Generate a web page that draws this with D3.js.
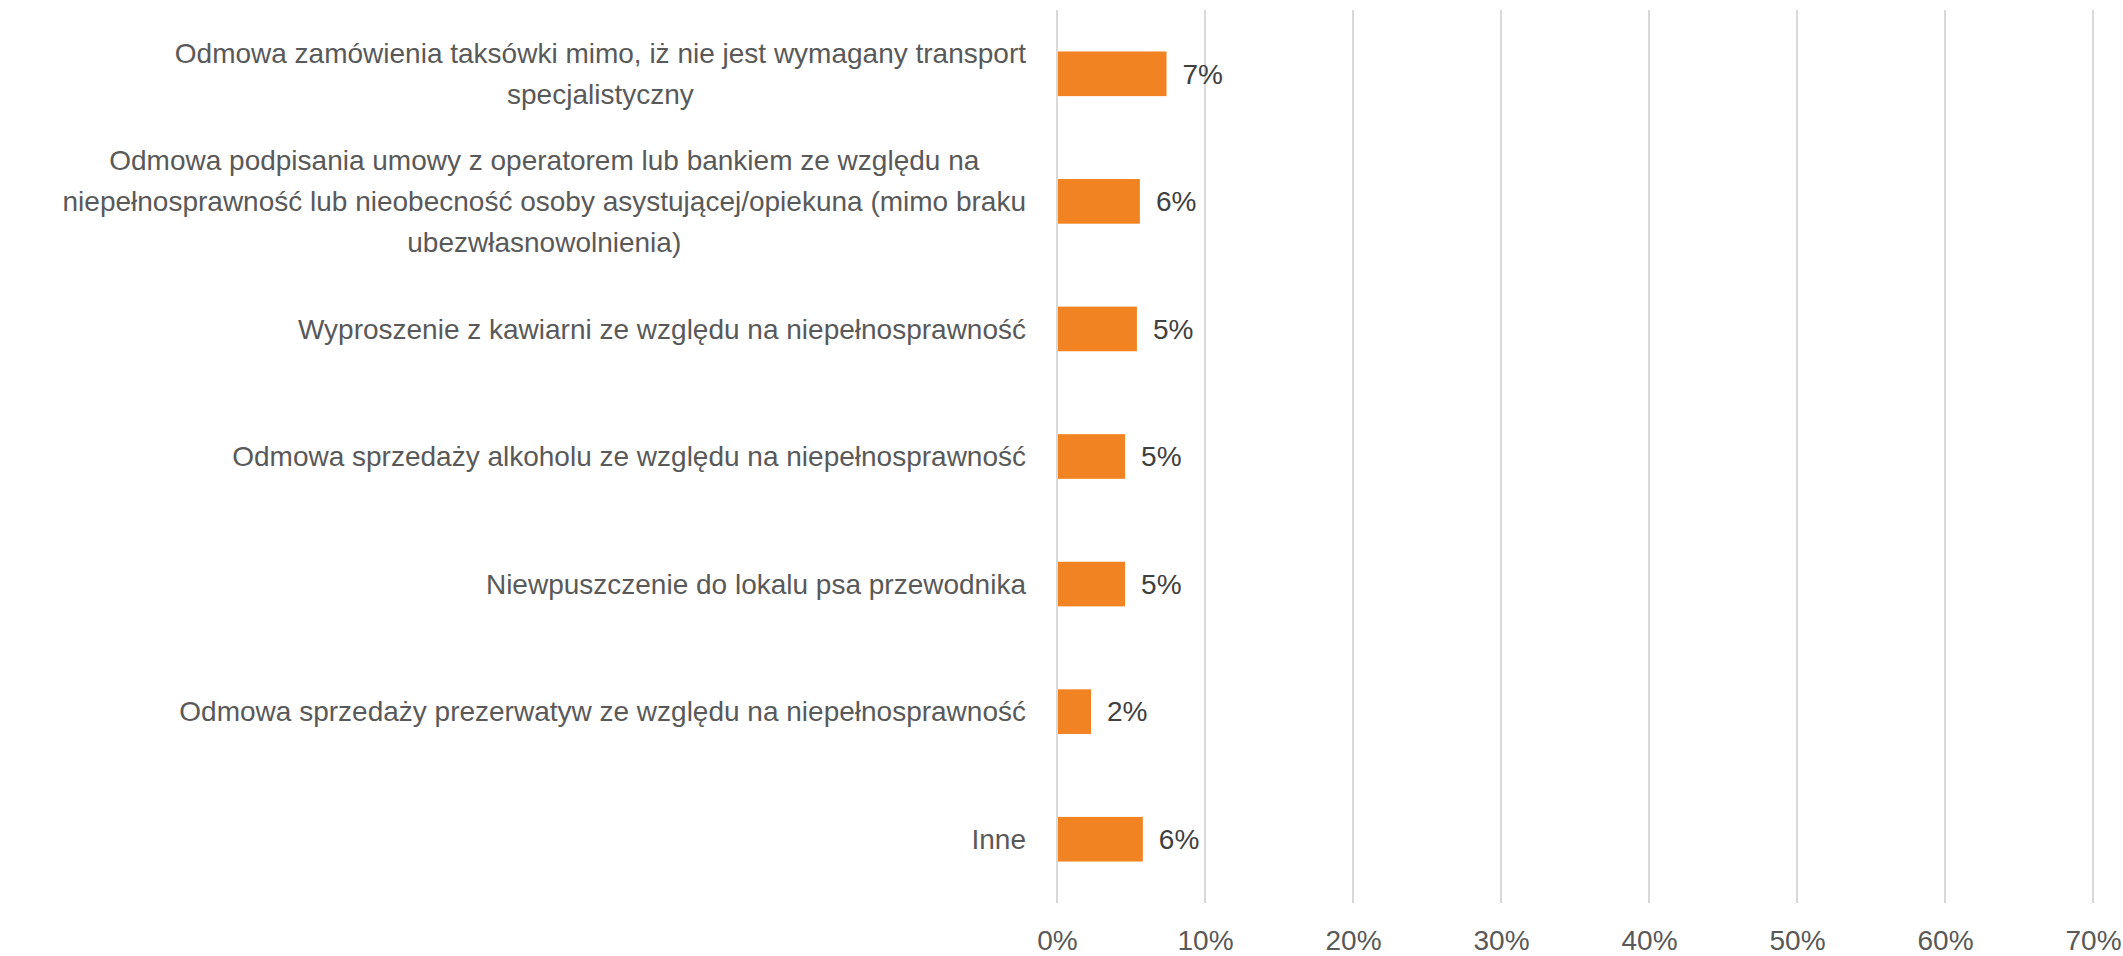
<!DOCTYPE html>
<html>
<head>
<meta charset="utf-8">
<script src="https://cdn.jsdelivr.net/npm/d3@7"></script>
<style>
  body { margin: 0; background: #fff; }
  svg { display: block; font-family: "Liberation Sans", Arial, sans-serif; }
</style>
</head>
<body>
<div id="main"></div>
<script>
'use strict';

// categories, each one split into the lines of its label
var categories = [
	['Odmowa zamówienia taksówki mimo, iż nie jest wymagany transport', 'specjalistyczny'],
	['Odmowa podpisania umowy z operatorem lub bankiem ze względu na', 'niepełnosprawność lub nieobecność osoby asystującej/opiekuna (mimo braku', 'ubezwłasnowolnienia)'],
	['Wyproszenie z kawiarni ze względu na niepełnosprawność'],
	['Odmowa sprzedaży alkoholu ze względu na niepełnosprawność'],
	['Niewpuszczenie do lokalu psa przewodnika'],
	['Odmowa sprzedaży prezerwatyw ze względu na niepełnosprawność'],
	['Inne']
];
var values = [7.4, 5.6, 5.4, 4.6, 4.6, 2.3, 5.8];
var valueLabels = ['7%', '6%', '5%', '5%', '5%', '2%', '6%'];
var ticks = [0, 10, 20, 30, 40, 50, 60, 70];

var width = 2123;
var height = 956;
var margin = {top: 10, right: 30, bottom: 53, left: 1057};
var orange = '#f28322';
var fontSize = 28;

var svg = d3.select('#main').append('svg')
	.attr('width', width)
	.attr('height', height);

var x = d3.scaleLinear()
	.domain([0, 70])
	.range([margin.left, width - margin.right]);

var y = d3.scaleBand()
	.domain(d3.range(categories.length))
	.range([margin.top, height - margin.bottom])
	.paddingInner(0.65)
	.paddingOuter(0.325);

// gridlines
svg.append('g').selectAll('line').data(ticks).enter().append('line')
	.attr('x1', function(d) { return x(d); })
	.attr('x2', function(d) { return x(d); })
	.attr('y1', margin.top)
	.attr('y2', height - margin.bottom)
	.style('stroke', '#d9d9d9')
	.style('stroke-width', 2);

// x axis tick labels
var xAxis = svg.append('g')
	.attr('transform', 'translate(0,' + (height - margin.bottom) + ')')
	.call(d3.axisBottom(x).tickValues(ticks).tickFormat(function(d) { return d + '%'; }).tickSize(0).tickPadding(27));
xAxis.select('.domain').remove();
xAxis.selectAll('text')
	.attr('font-size', fontSize)
	.attr('font-family', '"Liberation Sans", Arial, sans-serif')
	.attr('fill', '#595959');

// bars
svg.append('g').selectAll('rect').data(values).enter().append('rect')
	.attr('x', x(0) + 1)
	.attr('y', function(d, i) { return y(i); })
	.attr('width', function(d) { return x(d) - x(0) - 1; })
	.attr('height', y.bandwidth())
	.style('fill', orange);

// value labels
svg.append('g').selectAll('text').data(values).enter().append('text')
	.attr('x', function(d) { return x(d) + 16; })
	.attr('y', function(d, i) { return y(i) + y.bandwidth() / 2; })
	.attr('dy', '0.35em')
	.attr('font-size', fontSize)
	.attr('fill', '#404040')
	.text(function(d, i) { return valueLabels[i]; });

// category labels, wrapped lines centred inside a right-aligned block
var lineHeight = 41;
var labelRight = margin.left - 31;
var labels = svg.append('g').selectAll('g').data(categories).enter().append('g');
labels.each(function(lines, i) {
	var g = d3.select(this);
	var cy = y(i) + y.bandwidth() / 2;
	var texts = g.selectAll('text').data(lines).enter().append('text')
		.attr('y', function(d, j) { return cy + (j - (lines.length - 1) / 2) * lineHeight; })
		.attr('dy', '0.35em')
		.attr('font-size', fontSize)
		.attr('fill', '#595959')
		.attr('text-anchor', 'middle')
		.text(function(d) { return d; });
	var widest = 0;
	texts.each(function() { widest = Math.max(widest, this.getComputedTextLength()); });
	texts.attr('x', labelRight - widest / 2);
});
</script>
</body>
</html>
